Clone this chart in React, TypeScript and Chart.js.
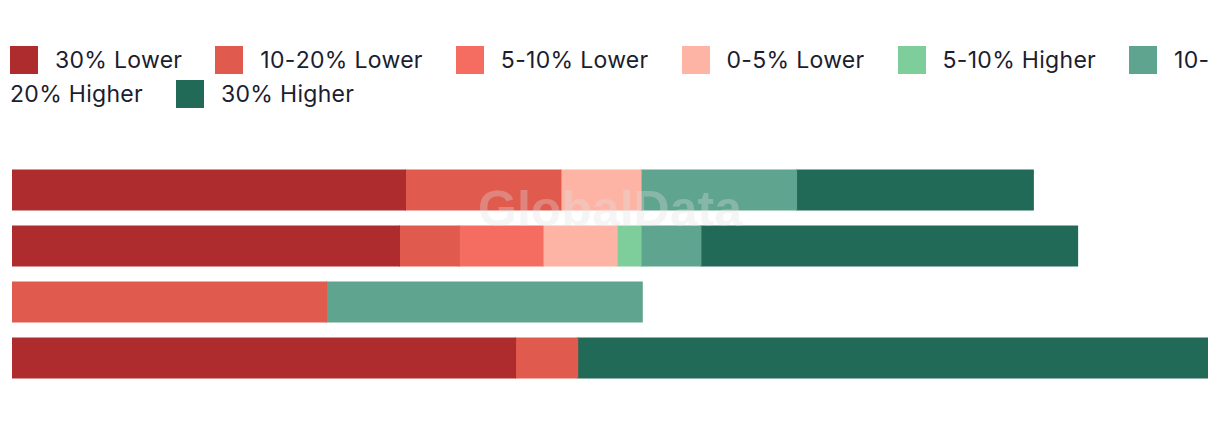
import React, { useEffect, useRef } from "react";
import { Chart, registerables } from "chart.js";

Chart.register(...registerables);

const categories = ["Row 1", "Row 2", "Row 3", "Row 4"];
const seriesLabels = [
  "30% Lower",
  "10-20% Lower",
  "5-10% Lower",
  "0-5% Lower",
  "5-10% Higher",
  "10-20% Higher",
  "30% Higher",
];
const seriesColors = [
  "#AE2C2E",
  "#E05A4E",
  "#F56C60",
  "#FDB4A5",
  "#7ECE9B",
  "#5FA48E",
  "#216A58",
];
const lower30 = [32.9, 32.4, null, 42.1];
const lower10to20 = [13.0, 5.0, 26.3, 5.2];
const lower5to10 = [null, 7.0, null, null];
const lower0to5 = [6.7, 6.2, null, null];
const higher5to10 = [null, 2.0, null, null];
const higher10to20 = [13.0, 5.0, 26.4, null];
const higher30 = [19.8, 31.5, null, 52.7];
const seriesValues = [lower30, lower10to20, lower5to10, lower0to5, higher5to10, higher10to20, higher30];
const axisMax = 100;

const FONT = "Inter, 'Noto Sans', sans-serif";

export default function App() {
  const canvasRef = useRef<HTMLCanvasElement | null>(null);

  useEffect(() => {
    if (!canvasRef.current) return;
    const chart = new Chart(canvasRef.current, {
      type: "bar",
      data: {
        labels: categories,
        datasets: seriesLabels.map((label, i) => ({
          label,
          data: seriesValues[i],
          backgroundColor: seriesColors[i],
          borderWidth: 0,
          inflateAmount: 0.5,
          categoryPercentage: 1,
          barPercentage: 40 / 56,
        })),
      },
      options: {
        indexAxis: "y",
        responsive: true,
        maintainAspectRatio: false,
        animation: false,
        layout: { padding: { left: 4, right: 4, top: 0, bottom: 0 } },
        scales: {
          x: { stacked: true, min: 0, max: axisMax, display: false },
          y: { stacked: true, display: false },
        },
        plugins: {
          legend: { display: false },
          tooltip: { enabled: false },
        },
      },
    });
    return () => chart.destroy();
  }, []);

  return (
    <div style={{ position: "relative", width: 1204, fontFamily: FONT }}>
      <div
        style={{
          width: 1210,
          paddingTop: 35,
          paddingLeft: 2,
          fontSize: 23,
          letterSpacing: "0.3px",
          lineHeight: "34px",
          color: "#1C1D2E",
        }}
      >
        {seriesLabels.map((label, i) => {
          const parts = label.split("-");
          return (
            <React.Fragment key={label}>
              <span
                style={{
                  display: "inline-block",
                  width: 28,
                  height: 28,
                  background: seriesColors[i],
                  verticalAlign: "middle",
                  marginRight: 17,
                  position: "relative",
                  top: -2,
                }}
              />
              <span style={{ marginRight: 33 }}>
                {parts.map((p, j) => (
                  <React.Fragment key={j}>
                    {p}
                    {j < parts.length - 1 ? "-" : ""}
                    {j < parts.length - 1 ? <wbr /> : null}
                  </React.Fragment>
                ))}
              </span>
            </React.Fragment>
          );
        })}
      </div>
      <div style={{ position: "relative", height: 224, marginTop: 51 }}>
        <canvas ref={canvasRef} />
      </div>
      <div
        style={{
          position: "fixed",
          left: "50%",
          top: "50%",
          transform: "translate(-50%, -54%)",
          fontFamily: "'Liberation Sans', Arial, sans-serif",
          fontWeight: 700,
          fontSize: 50,
          color: "rgba(225,225,225,0.32)",
          pointerEvents: "none",
          whiteSpace: "nowrap",
        }}
      >
        GlobalData
      </div>
    </div>
  );
}
